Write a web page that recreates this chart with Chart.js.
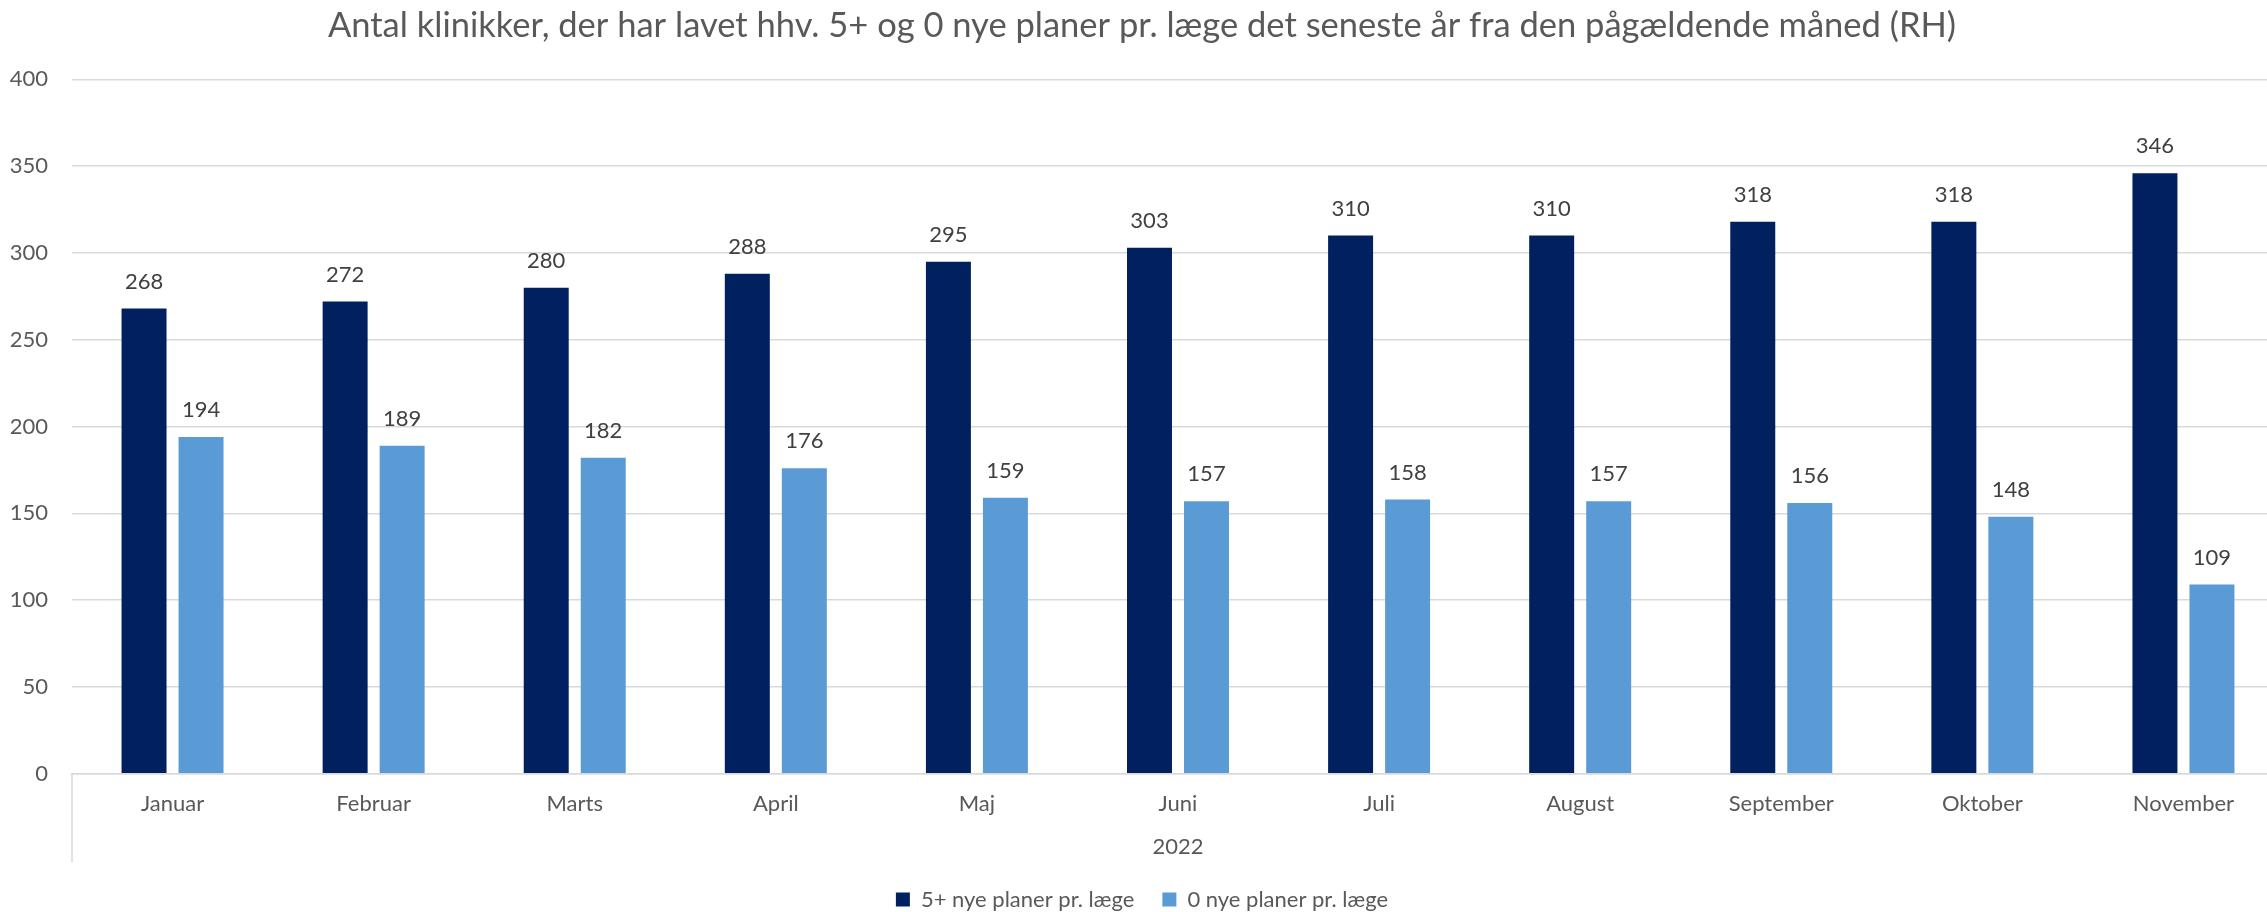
<!DOCTYPE html>
<html>
<head>
<meta charset="utf-8">
<script src="https://cdn.jsdelivr.net/npm/chart.js@4.4.1/dist/chart.umd.min.js"></script>
<style>
  html, body { margin: 0; padding: 0; background: #fff; overflow: hidden; }
  canvas { display: block; }
</style>
</head>
<body>
<canvas id="barChart" width="2312" height="912"></canvas>
<script>
const months = ["Januar", "Februar", "Marts", "April", "Maj", "Juni", "Juli", "August", "September", "Oktober", "November"];
const yearLabel = ["2022"];
const fivePlus = [268, 272, 280, 288, 295, 303, 310, 310, 318, 318, 346];
const zeroNew = [194, 189, 182, 176, 159, 157, 158, 157, 156, 148, 109];
const yTicks = [0, 50, 100, 150, 200, 250, 300, 350, 400];

const grey = "#595959";
const lineGrey = "#d9d9d9";
const fontName = "Lato";
const textSize = 22;

// value labels above each bar
const valueLabels = {
  id: "valueLabels",
  afterDatasetsDraw(chart) {
    const c = chart.ctx;
    c.save();
    c.font = `${textSize}px ${fontName}`;
    c.fillStyle = "#404040";
    c.textAlign = "center";
    c.textBaseline = "middle";
    chart.data.datasets.forEach((ds, i) => {
      chart.getDatasetMeta(i).data.forEach((bar, j) => {
        c.fillText(ds.data[j], bar.x, bar.y - 27);
      });
    });
    c.restore();
  }
};

// the outer edges of the two-level category axis
const axisEdges = {
  id: "axisEdges",
  afterDraw(chart) {
    const x = chart.scales.x, x2 = chart.scales.x2;
    const c = chart.ctx;
    c.save();
    c.strokeStyle = lineGrey;
    c.lineWidth = 1.5;
    [chart.chartArea.left, chart.chartArea.right].forEach(px => {
      c.beginPath();
      c.moveTo(px, x.top);
      c.lineTo(px, x2.bottom + 2);
      c.stroke();
    });
    c.restore();
  }
};

const ctx = document.getElementById("barChart").getContext("2d");
const chart = new Chart(ctx, {
  type: "bar",
  data: {
    labels: months,
    datasets: [
      { label: "5+ nye planer pr. læge", data: fivePlus, backgroundColor: "#002060" },
      { label: "0 nye planer pr. læge", data: zeroNew, backgroundColor: "#5b9bd5" }
    ]
  },
  options: {
    responsive: false,
    animation: false,
    categoryPercentage: 0.567,
    barPercentage: 0.789,
    layout: { padding: { left: 0, right: 28, top: 0, bottom: -8.5 } },
    plugins: {
      title: {
        display: true,
        text: "Antal klinikker, der har lavet hhv. 5+ og 0 nye planer pr. læge det seneste år fra den pågældende måned (RH)",
        color: grey,
        font: { family: fontName, size: 34.5, weight: "normal" },
        padding: { top: 5, bottom: 33 }
      },
      legend: {
        position: "bottom",
        labels: {
          color: grey,
          font: { family: fontName, size: textSize },
          boxWidth: 14,
          boxHeight: 14,
          padding: 28
        }
      },
      tooltip: { enabled: false }
    },
    scales: {
      x: {
        grid: { display: false },
        border: { display: true, color: lineGrey, width: 1.5 },
        ticks: { color: grey, font: { family: fontName, size: textSize }, padding: 9 }
      },
      x2: {
        type: "category",
        labels: yearLabel,
        position: "bottom",
        offset: true,
        weight: 1,
        grid: { display: false },
        border: { display: false },
        ticks: { color: grey, font: { family: fontName, size: textSize }, padding: 0 }
      },
      y: {
        min: 0,
        max: 400,
        afterBuildTicks: s => { s.ticks = yTicks.map(v => ({ value: v })); },
        afterFit: s => { s.width = 72; },
        grid: { color: lineGrey, lineWidth: 1.5, drawTicks: false },
        border: { display: false },
        ticks: { color: grey, font: { family: fontName, size: textSize }, padding: 24 }
      }
    }
  },
  plugins: [valueLabels, axisEdges]
});
</script>
</body>
</html>
